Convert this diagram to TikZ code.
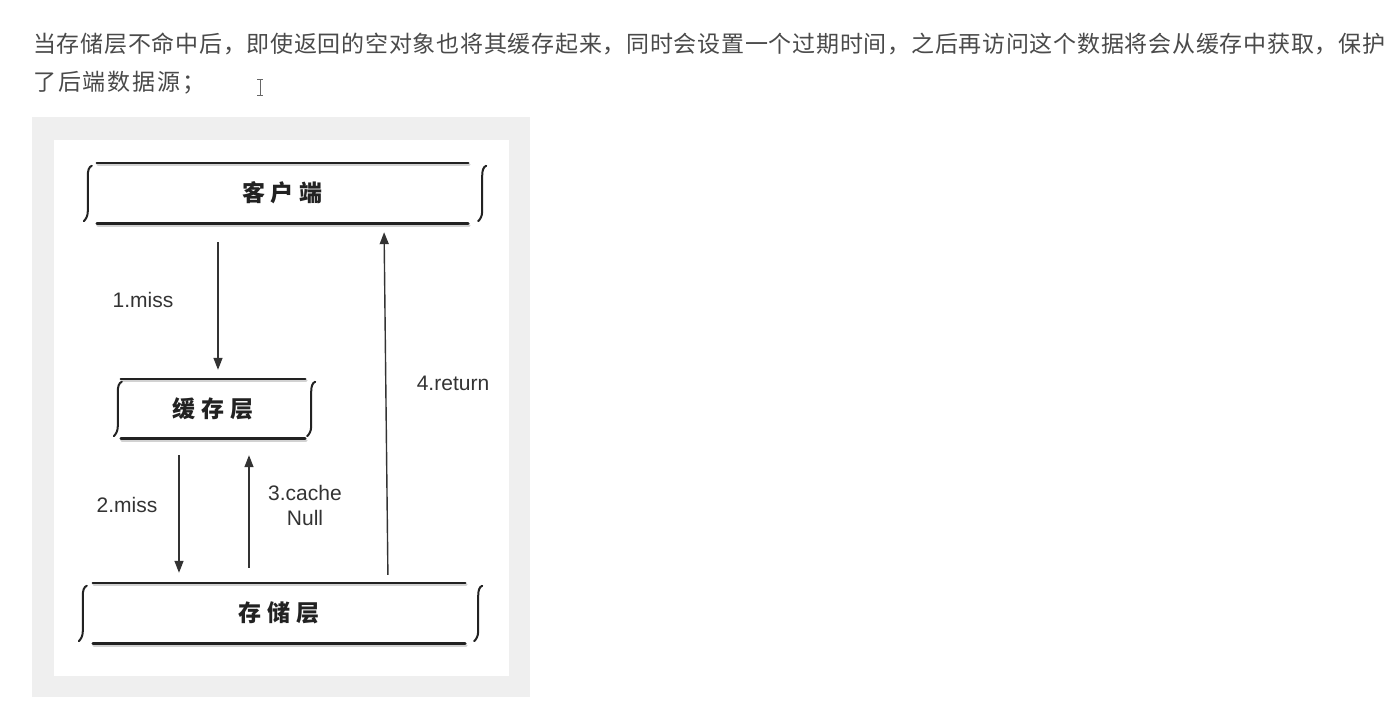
\documentclass[tikz,border=0pt]{standalone}
\usepackage{fontspec}
\setmainfont{Liberation Sans}
\newfontfamily\cjk{Noto Sans CJK SC}
\usetikzlibrary{arrows.meta,calc}
\definecolor{txt}{HTML}{4A4A4A}
\definecolor{panel}{HTML}{EFEFEF}
\definecolor{ink}{HTML}{222222}
\definecolor{lbl}{HTML}{333333}
\def\spreadtext#1{\spreadfirst#1\relax}
\def\spreadfirst#1{#1\spreadrest}
\def\spreadrest#1{\ifx#1\relax\else\hfil#1\expandafter\spreadrest\fi}
\newcommand\sbrace[3]{%
  \draw[braceline] ($(#1.north #2)+(#3+4,3)$) .. controls +(-3,1) and +(0,-5) .. ($(#1.north #2)+(#3,13)$)
     -- ($(#1.south #2)+(#3,-12)$) .. controls +(0,5) and +(2,-2) .. ($(#1.south #2)+(#3-4,-2)$);
}
\newcommand\layerdeco[3]{%
  \draw[shadowline] ($(#1.north west)+(1,2)$) -- ($(#1.north east)+(1,2)$);
  \draw[shadowline] ($(#1.south west)+(1,2)$) -- ($(#1.south east)+(1,2)$);
  \draw[layerline] (#1.north west) -- (#1.north east);
  \draw[layerline] (#1.south west) -- (#1.south east);
  \sbrace{#1}{west}{#2}
  \sbrace{#1}{east}{#3}
}
\begin{document}
\begin{tikzpicture}[x=1pt,y=-1pt,
  layer/.style={inner sep=0pt,font=\cjk\bfseries\fontsize{23pt}{25pt}\selectfont,text=ink},
  layerline/.style={draw=ink,line width=2.6pt,line cap=round},
  shadowline/.style={draw=black!35,line width=3pt,line cap=round,opacity=0.5},
  braceline/.style={draw=ink,line width=2pt,line cap=round},
  arr/.style={draw=lbl,line width=1.4pt,-{Triangle[length=12pt,width=9pt]}},
  lab/.style={font=\fontsize{21pt}{25pt}\selectfont,text=lbl,inner sep=0pt,align=center},
  para/.style={font=\cjk\fontsize{23pt}{28pt}\selectfont,text=txt,inner sep=0pt,anchor=west}]
\useasboundingbox (0,0) rectangle (1400,718);
\fill[white] (0,0) rectangle (1400,718);
% paragraph
\node[para] (p1) at (33,44) {\makebox[1352pt][s]{\spreadtext{当存储层不命中后，即使返回的空对象也将其缓存起来，同时会设置一个过期时间，之后再访问这个数据将会从缓存中获取，保护}}};
\node[para] (p2) at (33,83) {\makebox[172pt][s]{\spreadtext{了后端数据源；}}};
% text cursor
\draw[black!60,line width=1pt] (257,79) -- (263,79) (260,79) -- (260,95) (257,95) -- (263,95);
% panel
\fill[panel] (32,117) rectangle (530,697);
\fill[white] (54,140) rectangle (509,676);
% layers
\node[layer,minimum width=371pt,minimum height=60pt] (client) at (282.5,193) {客\hspace{6pt}户\hspace{6pt}端};
\node[layer,minimum width=184pt,minimum height=59pt] (cache) at (213,408.5) {缓\hspace{6pt}存\hspace{6pt}层};
\node[layer,minimum width=372pt,minimum height=60pt] (storage) at (279,613) {存\hspace{6pt}储\hspace{6pt}层};
\layerdeco{client}{-9}{14}
\layerdeco{cache}{-3}{6}
\layerdeco{storage}{-10}{13}
% arrow anchors
\coordinate (a1) at (218,0);
\coordinate (a2) at (179,0);
\coordinate (a3) at (249,0);
\coordinate (a4t) at (384,0);
\coordinate (a4b) at (388,0);
\draw[arr,shorten <=19pt,shorten >=9pt] (client.south -| a1) -- (cache.north -| a1);
\draw[arr,shorten <=17pt,shorten >=10pt] (cache.south -| a2) -- (storage.north -| a2);
\draw[arr,shorten <=15pt,shorten >=17pt] (storage.north -| a3) -- (cache.south -| a3);
\draw[arr,shorten <=8pt,shorten >=9pt] (storage.north -| a4b) -- (client.south -| a4t);
% labels
\node[lab] (l1) at (143,300) {1.miss};
\node[lab] (l2) at (127,505) {2.miss};
\node[lab] (l3) at (305,505) {3.cache\\Null};
\node[lab] (l4) at (453,383) {4.return};
\end{tikzpicture}
\end{document}
